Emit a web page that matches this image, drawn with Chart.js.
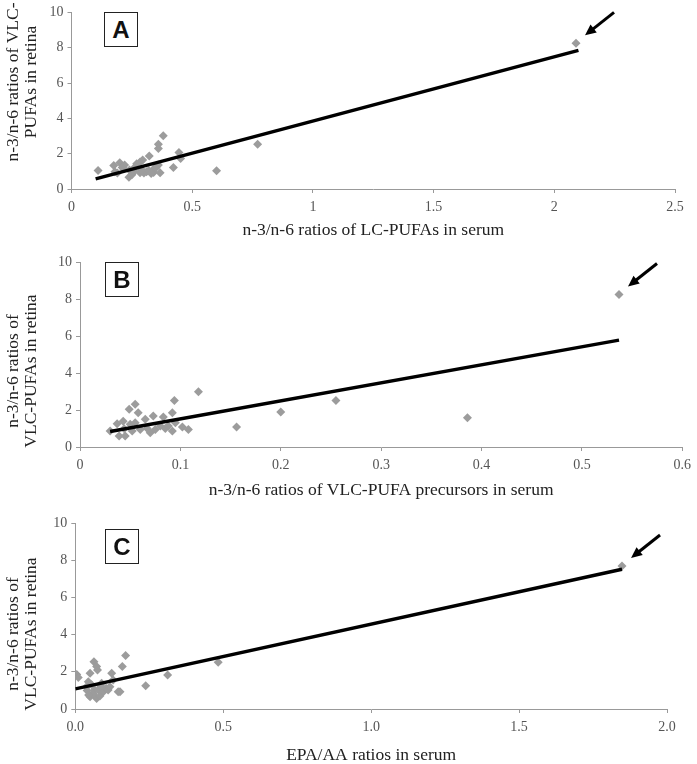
<!DOCTYPE html>
<html>
<head>
<meta charset="utf-8">
<script src="https://cdn.jsdelivr.net/npm/chart.js@4/dist/chart.umd.min.js"></script>
<style>
body { margin: 0; background: #fff; }
#page { position: relative; width: 697px; height: 764px; overflow: hidden; }
canvas { position: absolute; left: 0; }
.tag { position: absolute; width: 32px; height: 33px; border: 1px solid #222; background: #fff;
  font: bold 24px "Liberation Sans", Arial, sans-serif; line-height: 34px; text-align: center; color: #111; }
</style>
</head>
<body>
<div id="page">
  <canvas id="chartA" width="697" height="250" style="top:0px"></canvas>
  <canvas id="chartB" width="697" height="255" style="top:250px"></canvas>
  <canvas id="chartC" width="697" height="259" style="top:505px"></canvas>
  <div class="tag" style="left:104px;top:12px">A</div>
  <div class="tag" style="left:105px;top:262px">B</div>
  <div class="tag" style="left:105px;top:529px">C</div>
</div>
<script>
// panel A: n-3/n-6 LC-PUFAs in serum vs VLC-PUFAs in retina (outlier last)
let aSerum  = [0.11, 0.175, 0.18, 0.20, 0.19, 0.215, 0.22, 0.238, 0.24, 0.25, 0.263, 0.27, 0.284, 0.295, 0.322, 0.284, 0.30, 0.311, 0.34, 0.339, 0.36, 0.367, 0.36, 0.36, 0.38, 0.422, 0.445, 0.452, 0.601, 0.771, 0.26, 0.32, 0.35, 0.21, 0.29, 0.33, 2.09];
let aRetina = [1.05, 1.33, 0.97, 1.48, 0.90, 1.16, 1.36, 0.66, 1.08, 0.80, 1.25, 1.43, 1.53, 1.64, 1.87, 0.92, 0.90, 0.97, 0.93, 1.12, 1.36, 0.92, 2.29, 2.53, 3.01, 1.22, 2.06, 1.72, 1.03, 2.53, 1.00, 1.05, 1.20, 1.22, 1.10, 0.88, 8.25];
let aFitX = [0.10, 2.10];
let aFitY = [0.57, 7.85];

// panel B: VLC-PUFA precursors in serum
let bSerum  = [0.030, 0.037, 0.039, 0.043, 0.044, 0.045, 0.049, 0.050, 0.052, 0.055, 0.058, 0.055, 0.060, 0.065, 0.067, 0.070, 0.073, 0.075, 0.080, 0.083, 0.085, 0.088, 0.092, 0.092, 0.094, 0.095, 0.102, 0.108, 0.118, 0.156, 0.200, 0.255, 0.386, 0.537];
let bRetina = [0.86, 1.26, 0.59, 1.40, 0.99, 0.60, 2.04, 1.23, 0.86, 2.31, 1.86, 1.32, 0.95, 1.50, 1.00, 0.77, 1.68, 0.95, 1.14, 1.62, 1.00, 1.14, 1.86, 0.86, 2.52, 1.32, 1.08, 0.95, 2.99, 1.08, 1.89, 2.52, 1.58, 8.26];
let bFitX = [0.030, 0.537];
let bFitY = [0.84, 5.79];

// panel C: EPA/AA in serum
let cSerum  = [0.005, 0.010, 0.050, 0.063, 0.072, 0.075, 0.038, 0.044, 0.050, 0.059, 0.066, 0.072, 0.078, 0.083, 0.089, 0.095, 0.104, 0.111, 0.123, 0.128, 0.117, 0.145, 0.151, 0.159, 0.170, 0.238, 0.312, 0.483, 0.040, 0.055, 0.060, 0.085, 0.045, 1.848];
let cRetina = [1.85, 1.70, 1.92, 2.54, 2.28, 2.10, 1.20, 1.47, 0.66, 0.84, 1.02, 0.57, 1.02, 0.70, 1.38, 0.93, 1.11, 1.02, 1.92, 1.56, 1.20, 0.93, 0.93, 2.28, 2.87, 1.25, 1.83, 2.51, 1.00, 1.30, 0.80, 1.25, 0.75, 7.69];
let cFitX = [0.0, 1.848];
let cFitY = [1.08, 7.51];

let aTicks = ["0", "0.5", "1", "1.5", "2", "2.5"];
let bTicks = ["0", "0.1", "0.2", "0.3", "0.4", "0.5", "0.6"];
let cTicks = ["0.0", "0.5", "1.0", "1.5", "2.0"];
let yTicks = ["0", "2", "4", "6", "8", "10"];

const SERIF = '"Liberation Serif", "Times New Roman", serif';

function toPoints(xs, ys) {
  return xs.map((x, i) => ({ x: x, y: ys[i] }));
}

// rotated two-line y title, placed a bit off the plot centre like the original
const sideTitle = {
  id: "sideTitle",
  afterDraw(chart, args, opts) {
    let ctx = chart.ctx;
    ctx.save();
    ctx.translate(opts.x, opts.y);
    ctx.rotate(-Math.PI / 2);
    ctx.font = "17.5px " + SERIF;
    ctx.fillStyle = "#222";
    ctx.textAlign = "center";
    ctx.textBaseline = "middle";
    opts.lines.forEach((t, i) => ctx.fillText(t, 0, i * 18));
    ctx.restore();
  }
};

// black arrow pointing at the last (outlier) point
const arrow = {
  id: "arrow",
  afterDatasetsDraw(chart) {
    let meta = chart.getDatasetMeta(1);
    let pt = meta.data[meta.data.length - 1];
    let tipX = pt.x + 9, tipY = pt.y - 8;
    let tailX = pt.x + 38, tailY = pt.y - 31;
    let ang = Math.atan2(tipY - tailY, tipX - tailX);
    let ctx = chart.ctx;
    ctx.save();
    ctx.strokeStyle = "#000";
    ctx.fillStyle = "#000";
    ctx.lineWidth = 3;
    ctx.beginPath();
    ctx.moveTo(tailX, tailY);
    ctx.lineTo(tipX - 8 * Math.cos(ang), tipY - 8 * Math.sin(ang));
    ctx.stroke();
    ctx.beginPath();
    ctx.moveTo(tipX, tipY);
    ctx.lineTo(tipX - 11 * Math.cos(ang) + 5 * Math.sin(ang), tipY - 11 * Math.sin(ang) - 5 * Math.cos(ang));
    ctx.lineTo(tipX - 11 * Math.cos(ang) - 5 * Math.sin(ang), tipY - 11 * Math.sin(ang) + 5 * Math.cos(ang));
    ctx.closePath();
    ctx.fill();
    ctx.restore();
  }
};

function makePanel(id, p) {
  new Chart(document.getElementById(id), {
    type: "scatter",
    data: {
      datasets: [
        { data: toPoints(p.fitX, p.fitY), showLine: true, pointRadius: 0, borderColor: "#000", borderWidth: 3.5, borderCapStyle: "butt" },
        { data: toPoints(p.xs, p.ys), pointStyle: "rectRot", pointRadius: 4.5, backgroundColor: "#9c9c9c", borderWidth: 0 }
      ]
    },
    options: {
      responsive: false,
      animation: false,
      layout: { padding: { top: p.top, right: p.right, bottom: 0, left: 0 } },
      plugins: {
        legend: { display: false },
        tooltip: { enabled: false },
        sideTitle: { x: 13, y: p.titleY, lines: p.yTitle }
      },
      scales: {
        x: {
          type: "linear", min: 0, max: p.xMax,
          ticks: { stepSize: p.xStep, padding: 6, color: "#555", font: { family: SERIF, size: 14 },
            callback: (v, i) => p.xLabels[i] },
          grid: { drawOnChartArea: false, tickLength: 4, color: "#999" },
          border: { color: "#999" },
          title: { display: true, text: p.xTitle, color: "#222", font: { family: SERIF, size: 17.5, lineHeight: 1 },
            padding: { top: 0, bottom: p.xTitlePad } },
          afterFit: s => { s.height = p.xAxisH; }
        },
        y: {
          min: 0, max: 10,
          ticks: { stepSize: 2, padding: 4, color: "#555", font: { family: SERIF, size: 14 },
            callback: (v, i) => yTicks[i] },
          grid: { drawOnChartArea: false, tickLength: 4, color: "#999" },
          border: { color: "#999" },
          afterFit: s => { s.width = p.left; }
        }
      }
    },
    plugins: [sideTitle, arrow]
  });
}

makePanel("chartA", {
  xs: aSerum, ys: aRetina, fitX: aFitX, fitY: aFitY,
  xMax: 2.5, xStep: 0.5, xLabels: aTicks,
  xTitle: "n-3/n-6 ratios of LC-PUFAs in serum",
  yTitle: ["n-3/n-6 ratios of VLC-", "PUFAs in retina"],
  top: 11, right: 22, left: 71.5, xAxisH: 61, xTitlePad: 11, titleY: 82
});

makePanel("chartB", {
  xs: bSerum, ys: bRetina, fitX: bFitX, fitY: bFitY,
  xMax: 0.6, xStep: 0.1, xLabels: bTicks,
  xTitle: "n-3/n-6 ratios of VLC-PUFA precursors in serum",
  yTitle: ["n-3/n-6 ratios of", "VLC-PUFAs in retina"],
  top: 11, right: 11, left: 80, xAxisH: 58, xTitlePad: 6, titleY: 121
});

makePanel("chartC", {
  xs: cSerum, ys: cRetina, fitX: cFitX, fitY: cFitY,
  xMax: 2.0, xStep: 0.5, xLabels: cTicks,
  xTitle: "EPA/AA ratios in serum",
  yTitle: ["n-3/n-6 ratios of", "VLC-PUFAs in retina"],
  top: 18, right: 30, left: 75.3, xAxisH: 55, xTitlePad: 0, titleY: 129
});
</script>
</body>
</html>
